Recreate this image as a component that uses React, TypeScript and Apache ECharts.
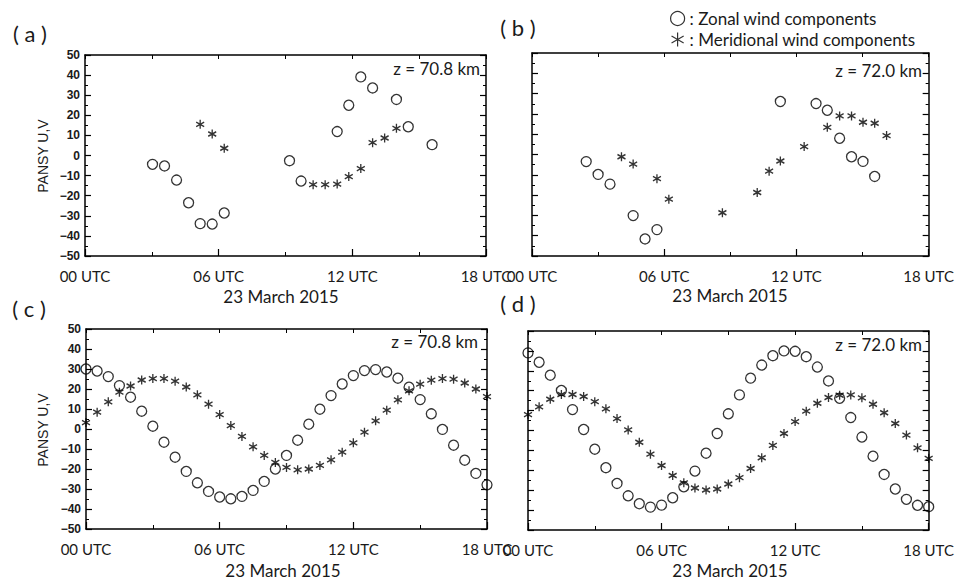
import React, { useEffect, useRef } from 'react';
import * as echarts from 'echarts';

// ---------- data ----------
const X_TICK_LABELS = ['00 UTC', '06 UTC', '12 UTC', '18 UTC'];
const ZONAL = 'Zonal wind components';
const MERID = 'Meridional wind components';

// (a) z = 70.8 km (observed)
const A_ZONAL_T = [3.03, 3.57, 4.11, 4.65, 5.17, 5.71, 6.25, 9.18, 9.7, 11.32, 11.84, 12.38, 12.91, 13.98, 14.51, 15.58];
const A_ZONAL_V = [-4.4, -5.2, -12.2, -23.5, -33.9, -34.1, -28.6, -2.6, -12.7, 11.9, 25.0, 39.1, 33.6, 27.9, 14.3, 5.4];
const A_MERID_T = [5.17, 5.71, 6.25, 10.24, 10.78, 11.32, 11.84, 12.38, 12.91, 13.45, 13.98];
const A_MERID_V = [15.5, 10.7, 3.6, -14.5, -14.5, -14.2, -10.5, -6.5, 6.4, 8.7, 13.5];

// (b) z = 72.0 km (observed)
const B_ZONAL_T = [2.46, 3.0, 3.54, 4.59, 5.13, 5.67, 11.27, 12.89, 13.4, 13.96, 14.5, 15.02, 15.55];
const B_ZONAL_V = [-3.5, -9.8, -14.6, -30.1, -41.6, -37.0, 26.1, 25.1, 21.8, 8.0, -1.1, -3.4, -10.8];
const B_MERID_T = [4.06, 4.59, 5.67, 6.21, 8.64, 10.22, 10.76, 11.27, 12.35, 13.4, 13.96, 14.5, 15.02, 15.55, 16.09];
const B_MERID_V = [-1.1, -4.7, -11.9, -22.0, -28.7, -18.7, -8.2, -3.2, 3.9, 13.4, 19.0, 19.0, 15.9, 15.4, 9.3];

// (c), (d) half-hourly
const CD_T = [0, 0.5, 1, 1.5, 2, 2.5, 3, 3.5, 4, 4.5, 5, 5.5, 6, 6.5, 7, 7.5, 8, 8.5, 9, 9.5, 10, 10.5, 11, 11.5, 12, 12.5, 13, 13.5, 14, 14.5, 15, 15.5, 16, 16.5, 17, 17.5, 18];
const C_ZONAL_V = [30, 29.0, 26.2, 21.7, 15.9, 8.9, 1.4, -6.6, -14.1, -21.2, -26.9, -31.2, -34.0, -34.9, -33.7, -30.7, -26.2, -20.0, -13.2, -5.6, 2.4, 9.9, 16.7, 22.5, 26.7, 29.2, 29.7, 28.5, 25.4, 20.9, 14.7, 7.6, -0.2, -8.1, -15.6, -22.2, -27.9];
const C_MERID_V = [3.2, 8.4, 13.6, 18.4, 21.5, 24.5, 25.2, 25.2, 23.9, 21.0, 17.1, 12.4, 7.2, 1.7, -3.7, -8.9, -13.2, -16.7, -19.2, -20.4, -20.0, -18.2, -15.4, -11.6, -6.9, -1.6, 4.1, 9.4, 14.6, 19.1, 22.4, 24.4, 25.2, 24.9, 23.0, 20.0, 16.2];
const D_ZONAL_V = [39.0, 34.3, 27.8, 20.1, 10.5, 0.5, -9.4, -18.7, -26.6, -32.8, -36.8, -38.5, -37.5, -33.8, -28.3, -20.4, -11.4, -1.5, 8.4, 17.9, 26.3, 32.9, 37.6, 40.0, 39.8, 37.1, 31.9, 24.9, 16.2, 6.5, -3.3, -12.9, -22.1, -29.4, -34.6, -37.6, -38.3];
const D_MERID_V = [8.0, 11.9, 15.7, 18.1, 18.1, 17.1, 14.5, 10.9, 6.0, 0.3, -5.9, -11.9, -17.6, -22.6, -26.3, -28.9, -29.9, -29.4, -26.9, -23.7, -19.1, -13.7, -7.5, -1.5, 4.5, 9.7, 13.7, 16.6, 17.7, 17.9, 16.4, 13.2, 8.9, 3.5, -2.3, -8.7, -14.0];

const PANEL_LABELS = ['( a )', '( b )', '( c )', '( d )'];
const HEIGHT_LABELS = ['z = 70.8 km', 'z = 72.0 km', 'z = 70.8 km', 'z = 72.0 km'];
const DATE_LABEL = '23 March 2015';
const Y_NAME = 'PANSY U,V';

// ---------- styling / layout ----------
const FONT = 'Lato, "Open Sans", sans-serif';
const ARIAL = '"Liberation Sans", Arial, sans-serif';
const TXT = '#1a1a1a';
const STAR = 'path://M5,0L5,10M0.67,2.5L9.33,7.5M0.67,7.5L9.33,2.5';

const GRIDS = [
  { left: 85, top: 55, width: 401, height: 201 },
  { left: 532, top: 53, width: 401, height: 203 },
  { left: 86, top: 329, width: 401, height: 200 },
  { left: 528, top: 331, width: 402, height: 199 },
];
const SHOW_Y_LABELS = [true, false, true, false];

const lineStyle = { color: '#000', width: 1.5 };

function xAxes(gi: number) {
  return [
    {
      type: 'value', gridIndex: gi, position: 'bottom', min: 0, max: 18, interval: 6,
      axisLine: { show: true, onZero: false, lineStyle },
      axisTick: { show: true, inside: true, length: 7, lineStyle: { color: '#000', width: 1.2 } },
      minorTick: { show: true, splitNumber: 2, length: 4, lineStyle: { color: '#000', width: 1 } },
      splitLine: { show: false }, minorSplitLine: { show: false },
      axisLabel: {
        show: true, margin: 12, fontFamily: FONT, fontSize: 15, color: TXT,
        showMinLabel: true, showMaxLabel: true,
        formatter: (v: number) => X_TICK_LABELS[Math.round(v / 6)],
      },
    },
    {
      type: 'value', gridIndex: gi, position: 'top', min: 0, max: 18, interval: 3,
      axisLine: { show: true, onZero: false, lineStyle },
      axisTick: { show: true, inside: true, length: 4, lineStyle: { color: '#000', width: 1 } },
      splitLine: { show: false },
      axisLabel: { show: false },
    },
  ];
}

function yAxes(gi: number) {
  const common = {
    type: 'value', gridIndex: gi, min: -50, max: 50, interval: 10,
    axisLine: { show: true, onZero: false, lineStyle },
    axisTick: { show: true, inside: true, length: 6, lineStyle: { color: '#000', width: 1.2 } },
    minorTick: { show: true, splitNumber: 2, length: 3, lineStyle: { color: '#000', width: 1 } },
    splitLine: { show: false }, minorSplitLine: { show: false },
  };
  return [
    {
      ...common, position: 'left',
      axisLabel: {
        show: SHOW_Y_LABELS[gi], margin: 5, fontFamily: ARIAL,
        fontWeight: 'bold', fontSize: 12, color: TXT,
        formatter: (v: number) => (v < 0 ? '\u2212' + Math.abs(v) : String(v)),
      },
    },
    { ...common, position: 'right', axisLabel: { show: false } },
  ];
}

function pairs(T: number[], V: number[]) {
  return T.map((t, i) => [t, V[i]]);
}

function zonal(gi: number, T: number[], V: number[]) {
  return {
    type: 'scatter', name: ZONAL, xAxisIndex: 2 * gi, yAxisIndex: 2 * gi,
    data: pairs(T, V), symbol: 'circle', symbolSize: 10, clip: true, silent: true,
    itemStyle: { color: 'rgba(0,0,0,0)', borderColor: '#000', borderWidth: 1.3 },
    z: 3,
  };
}

function merid(gi: number, T: number[], V: number[]) {
  return {
    type: 'scatter', name: MERID, xAxisIndex: 2 * gi, yAxisIndex: 2 * gi,
    data: pairs(T, V), symbol: STAR, symbolSize: [8, 9], clip: true, silent: true,
    itemStyle: { color: '#000', borderColor: '#000', borderWidth: 1.4 },
    z: 4,
  };
}

const PANEL_LABEL_POS = [[30, 33], [518, 27], [29, 308], [518, 303]];
const HEIGHT_POS = [[480, 68], [922, 70], [478, 341], [922, 344]];
const DATE_POS = [[281, 296], [730, 295], [283, 570], [730, 570]];
const YNAME_POS = [[43, 156], [43, 430]];

function text(x: number, y: number, t: string, fontSize: number, align = 'center') {
  return {
    type: 'text', x, y, silent: true,
    style: { text: t, fill: TXT, fontSize, fontFamily: FONT, align, verticalAlign: 'middle' },
  };
}

export default function App() {
  const ref = useRef<HTMLDivElement>(null);
  useEffect(() => {
    if (!ref.current) return;
    const chart = echarts.init(ref.current, null, { renderer: 'svg' });
    const graphics: any[] = [];
    PANEL_LABELS.forEach((l, i) => graphics.push(text(PANEL_LABEL_POS[i][0], PANEL_LABEL_POS[i][1], l, 22)));
    HEIGHT_LABELS.forEach((l, i) => graphics.push(text(HEIGHT_POS[i][0], HEIGHT_POS[i][1], l, 17, 'right')));
    DATE_POS.forEach((p) => graphics.push(text(p[0], p[1], DATE_LABEL, 17)));
    YNAME_POS.forEach((p) =>
      graphics.push({
        type: 'text', x: p[0], y: p[1], rotation: Math.PI / 2, silent: true,
        style: { text: Y_NAME, fill: TXT, fontSize: 14, fontFamily: ARIAL, align: 'center', verticalAlign: 'middle' },
      })
    );

    chart.setOption({
      animation: false,
      backgroundColor: '#fff',
      grid: GRIDS.map((g) => ({ ...g, containLabel: false })),
      xAxis: [0, 1, 2, 3].flatMap((i) => xAxes(i)),
      yAxis: [0, 1, 2, 3].flatMap((i) => yAxes(i)),
      legend: {
        data: [ZONAL, MERID], orient: 'vertical', left: 665, top: 5, itemGap: 4,
        itemWidth: 14, itemHeight: 14, selectedMode: false,
        formatter: (n: string) => ': ' + n,
        textStyle: { fontFamily: FONT, fontSize: 17, color: TXT, lineHeight: 16 },
        itemStyle: { borderWidth: 1.2 },
      },
      series: [
        zonal(0, A_ZONAL_T, A_ZONAL_V), merid(0, A_MERID_T, A_MERID_V),
        zonal(1, B_ZONAL_T, B_ZONAL_V), merid(1, B_MERID_T, B_MERID_V),
        zonal(2, CD_T, C_ZONAL_V), merid(2, CD_T, C_MERID_V),
        zonal(3, CD_T, D_ZONAL_V), merid(3, CD_T, D_MERID_V),
      ],
      graphic: graphics,
    });
    return () => chart.dispose();
  }, []);
  return <div ref={ref} style={{ position: 'absolute', left: 0, top: 0, width: 957, height: 580 }} />;
}
